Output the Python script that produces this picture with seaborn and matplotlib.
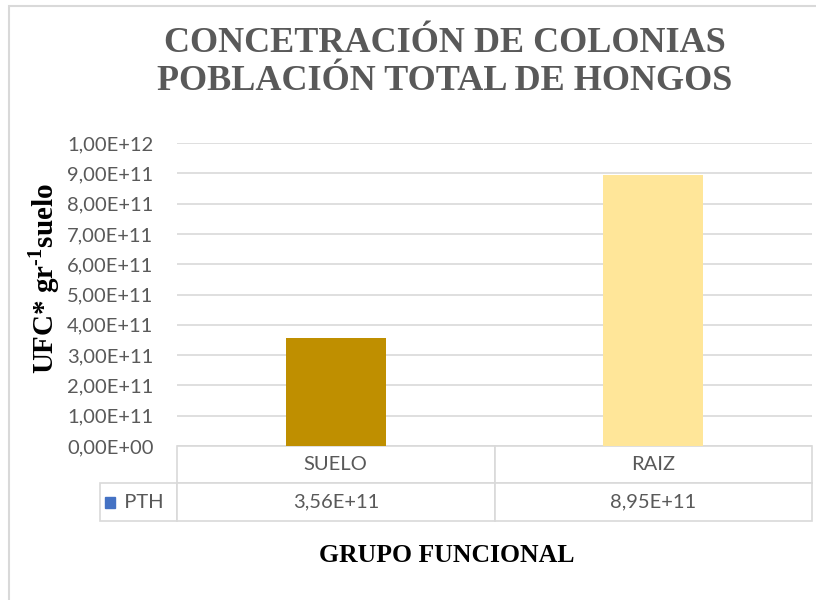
import matplotlib
matplotlib.use("Agg")
import matplotlib.pyplot as plt
from matplotlib.patches import Rectangle
from matplotlib.ticker import FuncFormatter, MultipleLocator
import seaborn as sns

categories = ['SUELO', 'RAIZ']
pth_values = [3.56e11, 8.95e11]
bar_colors = ['#BF8F00', '#FFE699']
series_name = 'PTH'
series_color = '#4472C4'

title = 'CONCETRACIÓN DE COLONIAS\nPOBLACIÓN TOTAL DE HONGOS'
y_label = r'UFC* gr$^{\mathbf{\text{-}1}}$suelo'
x_label = 'GRUPO FUNCIONAL'


def sci_comma(v):
    return f'{v:.2E}'.replace('.', ',')


sns.set_theme(style='white')
plt.rcParams['font.family'] = ['Lato', 'DejaVu Sans']
plt.rcParams['mathtext.fontset'] = 'custom'
plt.rcParams['mathtext.rm'] = 'Liberation Serif'
plt.rcParams['mathtext.bf'] = 'Liberation Serif:bold'

fig = plt.figure(figsize=(8.16, 6.0), dpi=100)
ax = fig.add_axes([177 / 816, 154 / 600, 635 / 816, 303 / 600])

sns.barplot(x=categories, y=pth_values, hue=categories, palette=bar_colors,
            width=0.315, legend=False, ax=ax, linewidth=0, saturation=1)

ax.set_ylim(0, 1e12)
ax.yaxis.set_major_locator(MultipleLocator(1e11))
ax.yaxis.set_major_formatter(FuncFormatter(lambda v, p: sci_comma(v)))
ax.tick_params(axis='y', labelsize=14.5, colors='#595959', length=0, pad=17)
ax.tick_params(axis='x', bottom=False, labelbottom=False)
ax.yaxis.grid(True, color='#D9D9D9', linewidth=1.2)
ax.set_axisbelow(True)
for s in ax.spines.values():
    s.set_visible(False)
ax.set_xlabel('')
ax.set_ylabel('')
ax.set_xlim(-0.5, 1.5)

# data table under the axis
lw = 77 / 635
th = 75 / 303
rows = [[''] + categories, [series_name] + [sci_comma(v) for v in pth_values]]
tbl = ax.table(cellText=rows, colWidths=[lw, 0.5, 0.5], cellLoc='center',
               bbox=[-lw, -th, 1 + lw, th])
tbl.auto_set_font_size(False)
for (r, c), cell in tbl.get_celld().items():
    cell.set_edgecolor('#D9D9D9')
    cell.set_linewidth(1.2)
    cell.get_text().set_color('#595959')
    cell.get_text().set_fontsize(14.5)
    if r == 0 and c == 0:
        cell.visible_edges = ''
    if r == 1 and c == 0:
        cell.get_text().set_text('  ' + series_name)

ax.add_patch(Rectangle((-0.1134, -0.203), 10 / 635, 11 / 303,
                       transform=ax.transAxes, color=series_color, clip_on=False))

fig.text(0.545, 0.895, title, ha='center', va='center', fontsize=26,
         fontweight='bold', family='Liberation Serif', color='#595959',
         linespacing=1.2)
fig.text(0.054, 0.535, y_label, rotation=90, ha='center', va='center',
         fontsize=21, fontweight='bold', family='Liberation Serif', color='black')
fig.text(0.548, 0.075, x_label, ha='center', va='center', fontsize=18.5,
         fontweight='bold', family='Liberation Serif', color='black')

fig.patches.append(Rectangle((9 / 816, -0.1), 1.2, 1.1 - 6 / 600,
                             transform=fig.transFigure, fill=False,
                             edgecolor='#D9D9D9', linewidth=1.5))

fig.savefig('out.png', dpi=100, facecolor='white')
